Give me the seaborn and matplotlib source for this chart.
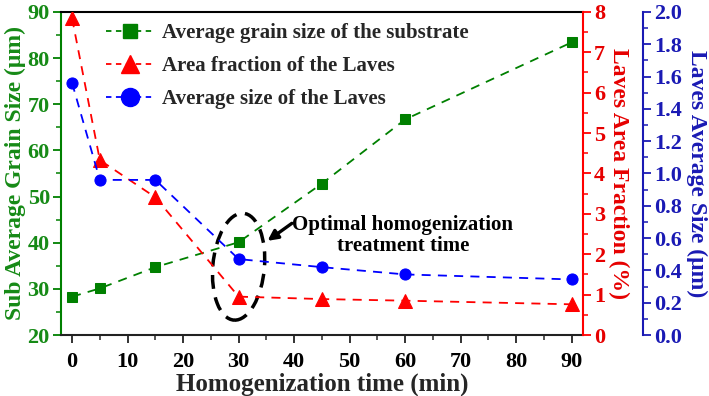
import matplotlib
matplotlib.use("Agg")
import matplotlib.pyplot as plt
import seaborn as sns
import numpy as np
import pandas as pd
from matplotlib.patches import Ellipse
from matplotlib.lines import Line2D
from matplotlib.ticker import MultipleLocator, FormatStrFormatter

# ---- data ----
time_min = [0, 5, 15, 30, 45, 60, 90]
grain_size = [28.3, 30.1, 34.7, 40.1, 52.8, 66.7, 83.4]          # um (left axis)
laves_fraction = [7.84, 4.33, 3.41, 0.95, 0.89, 0.85, 0.76]      # % (red axis)
laves_size = [1.56, 0.96, 0.96, 0.47, 0.42, 0.375, 0.344]        # um (blue axis)
legend_labels = ["Average grain size of the substrate",
                 "Area fraction of the Laves",
                 "Average size of the Laves"]
annotation_text = "Optimal homogenization\ntreatment time"

GREEN = "#008000"
RED = "#ff0000"
BLUE = "#0000ff"
GREEN_T = "#168a16"
RED_T = "#e60000"
BLUE_T = "#1a1ab4"

sns.set_style("ticks")
plt.rcParams["font.family"] = ["Liberation Serif", "DejaVu Serif"]
plt.rcParams["font.weight"] = "bold"

fig = plt.figure(figsize=(7.09, 3.96), dpi=100)
ax = fig.add_axes([0.086, 0.154, 0.736, 0.816])
ax2 = ax.twinx()
ax3 = ax.twinx()
ax3.spines["right"].set_position(("axes", 1.115))

df = pd.DataFrame({"t": time_min, "g": grain_size, "f": laves_fraction, "s": laves_size})

dash = (0, (5, 4))
sns.lineplot(data=df, x="t", y="g", ax=ax, color=GREEN, marker="s", markersize=7,
             markeredgecolor=GREEN, linestyle=dash, linewidth=1.3)
sns.lineplot(data=df, x="t", y="f", ax=ax2, color=RED, marker="^", markersize=10,
             markeredgecolor=RED, linestyle=dash, linewidth=1.3)
sns.lineplot(data=df, x="t", y="s", ax=ax3, color=BLUE, marker="o", markersize=8,
             markeredgecolor=BLUE, linestyle=dash, linewidth=1.3)

ax.set_xlim(-2, 92)
ax.set_ylim(20, 90)
ax2.set_ylim(0, 8)
ax3.set_ylim(0, 2.0)

ax.xaxis.set_major_locator(MultipleLocator(10))
ax.xaxis.set_minor_locator(MultipleLocator(5))
ax.yaxis.set_major_locator(MultipleLocator(10))
ax.yaxis.set_minor_locator(MultipleLocator(5))
ax2.yaxis.set_major_locator(MultipleLocator(1))
ax2.yaxis.set_minor_locator(MultipleLocator(0.5))
ax3.yaxis.set_major_locator(MultipleLocator(0.2))
ax3.yaxis.set_minor_locator(MultipleLocator(0.1))
ax3.yaxis.set_major_formatter(FormatStrFormatter("%.1f"))

fs_tick = 16
fs_lab = 17
for a in (ax, ax2, ax3):
    a.tick_params(which="major", length=6, width=1.3, direction="out", labelsize=fs_tick)
    a.tick_params(which="minor", length=3.5, width=1.1, direction="out")
    for sp in a.spines.values():
        sp.set_linewidth(1.5)

ax.tick_params(axis="x", colors="#222222", labelcolor="black", pad=6)
ax.tick_params(axis="y", which="both", colors=GREEN, labelcolor=GREEN_T, pad=2)
ax2.tick_params(axis="y", which="both", colors=RED, labelcolor=RED_T, pad=2)
ax3.tick_params(axis="y", which="both", colors=BLUE_T, labelcolor=BLUE_T, pad=2)

ax.spines["left"].set_color(GREEN)
ax.spines["top"].set_color("black")
ax.spines["bottom"].set_color("#222222")
ax2.spines["right"].set_color(RED)
ax3.spines["right"].set_color(BLUE_T)
for a in (ax2, ax3):
    a.spines["left"].set_visible(False)
    a.spines["top"].set_visible(False)
    a.spines["bottom"].set_visible(False)
    a.set_xlabel("")
ax.spines["right"].set_visible(False)

for lab in ax.get_xticklabels() + ax.get_yticklabels() + ax2.get_yticklabels() + ax3.get_yticklabels():
    lab.set_fontweight("bold")

ax.set_xlabel("Homogenization time (min)", fontsize=fs_lab + 1, fontweight="bold", labelpad=1)
ax.set_ylabel("Sub Average Grain Size (\u03bcm)", fontsize=fs_lab, fontweight="bold",
              color=GREEN_T, labelpad=1)
ax2.set_ylabel("Laves Area Fraction (%)", fontsize=fs_lab, fontweight="bold", color=RED_T,
               rotation=270, labelpad=17)
ax3.set_ylabel("Laves Average Size (\u03bcm)", fontsize=fs_lab, fontweight="bold", color=BLUE_T,
               rotation=270, labelpad=18)

handles = [
    Line2D([], [], color=GREEN, marker="s", markersize=10, linestyle=(0, (3, 2.5)), linewidth=1.3),
    Line2D([], [], color=RED, marker="^", markersize=13, linestyle=(0, (3, 2.5)), linewidth=1.3),
    Line2D([], [], color=BLUE, marker="o", markersize=13, linestyle=(0, (3, 2.5)), linewidth=1.3),
]
ax.legend(handles, legend_labels, loc="upper left", bbox_to_anchor=(0.058, 1.01),
          frameon=False, prop={"weight": "bold", "size": 15}, handlelength=2.3,
          handletextpad=0.4, labelspacing=0.62, borderaxespad=0.3)

# optimal region ellipse and annotation
ell = Ellipse((30.0, 34.8), width=9.3, height=23.2, angle=-4, fill=False, edgecolor="black",
              linewidth=2.5, linestyle=(0, (4, 2.5)), zorder=5)
ax.add_patch(ell)
ax.text(59.6, 41.6, annotation_text, ha="center", va="center", fontsize=15,
        fontweight="bold", color="black", linespacing=1.05)
ax.annotate("", xy=(35.2, 40.4), xytext=(39.6, 44.2),
            arrowprops=dict(arrowstyle="-|>", color="black", lw=2.4, mutation_scale=15,
                            shrinkA=0, shrinkB=0))

fig.savefig("out.png", dpi=100)
